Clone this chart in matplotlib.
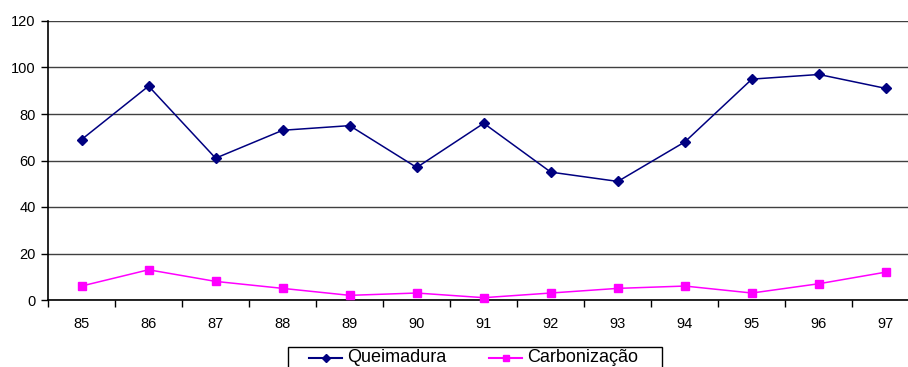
import matplotlib
matplotlib.use("Agg")
import matplotlib.pyplot as plt
from matplotlib.lines import Line2D
from matplotlib.patches import Rectangle
from matplotlib.ticker import FixedLocator, NullFormatter

plt.rcParams['font.family'] = ['Liberation Sans', 'DejaVu Sans']

anos = ["85", "86", "87", "88", "89", "90", "91", "92", "93", "94", "95", "96", "97"]
queimadura = [69, 92, 61, 73, 75, 57, 76, 55, 51, 68, 95, 97, 91]
carbonizacao = [6, 13, 8, 5, 2, 3, 1, 3, 5, 6, 3, 7, 12]
y_ticks = [0, 20, 40, 60, 80, 100, 120]

NAVY = "#000080"
MAGENTA = "#FF00FF"

W, H = 908, 367
fig = plt.figure(figsize=(W / 100, H / 100), dpi=100)


def fx(px):
    return px / W


def fy(py):
    return 1 - py / H


left, right, top, bottom = 48, 919.5, 21, 300
ax = fig.add_axes([fx(left), fy(bottom), (right - left) / W, (bottom - top) / H])

x = list(range(len(anos)))
ax.plot(x, queimadura, color=NAVY, lw=1.1, marker="D", ms=5,
        markeredgecolor=NAVY, markerfacecolor=NAVY, clip_on=False, zorder=3)
ax.plot(x, carbonizacao, color=MAGENTA, lw=1.1, marker="s", ms=6,
        markeredgecolor=MAGENTA, markerfacecolor=MAGENTA, clip_on=False, zorder=3)

ax.set_xlim(-0.5, len(anos) - 0.5)
ax.set_ylim(0, 120)
ax.set_yticks(y_ticks)
ax.set_yticklabels([str(v) for v in y_ticks], fontsize=10.5)
ax.yaxis.grid(True, color="#404040", lw=1.0)
ax.set_axisbelow(True)

ax.set_xticks(x)
ax.set_xticklabels(anos, fontsize=10.5)
ax.tick_params(axis="x", which="major", length=0, pad=12)
ax.xaxis.set_minor_locator(FixedLocator([i - 0.5 for i in range(len(anos) + 1)]))
ax.xaxis.set_minor_formatter(NullFormatter())
ax.tick_params(axis="x", which="minor", length=5, width=1, color="black", direction="out")
ax.tick_params(axis="y", length=5, width=1, color="black", direction="out", pad=4)

for s in ["top", "right"]:
    ax.spines[s].set_visible(False)
for s in ["left", "bottom"]:
    ax.spines[s].set_color("black")
    ax.spines[s].set_linewidth(1.2)

# Legend box along the bottom edge (runs off the lower border)
fig.patches.append(Rectangle((fx(288), fy(385)), (662 - 288) / W, (385 - 347) / H,
                             transform=fig.transFigure, fill=False,
                             edgecolor="black", lw=1.0, clip_on=False))
legend_items = [
    ("Queimadura", NAVY, "D", 4, 309, 342, 347),
    ("Carbonização", MAGENTA, "s", 5, 489, 522, 527),
]
for label, color, marker, ms, x0, x1, tx in legend_items:
    fig.lines.append(Line2D([fx(x0), fx(x1)], [fy(357.5), fy(357.5)],
                            transform=fig.transFigure, color=color, lw=1.5))
    fig.lines.append(Line2D([fx((x0 + x1) / 2)], [fy(357.5)], transform=fig.transFigure,
                            color=color, marker=marker, ms=ms, lw=0))
    fig.text(fx(tx), fy(362.5), label, fontsize=13, color="black",
             ha="left", va="baseline")

fig.savefig("out.png", dpi=100)
